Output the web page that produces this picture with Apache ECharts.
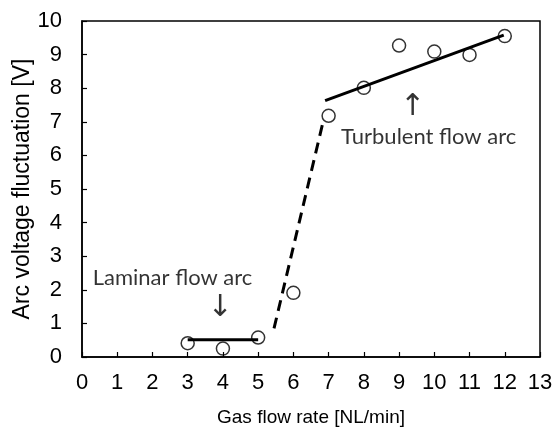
<!DOCTYPE html>
<html><head><meta charset="utf-8">
<script src="https://cdn.jsdelivr.net/npm/echarts@6/dist/echarts.min.js"></script>
<style>html,body{margin:0;padding:0;background:#fff}#c{width:555px;height:437px}</style>
</head><body><div id="c"></div>
<script>
var flowRate = [3, 4, 5, 6, 7, 8, 9, 10, 11, 12];
var fluctuation = [0.41, 0.25, 0.58, 1.91, 7.18, 8.01, 9.27, 9.09, 8.99, 9.55];
var laminarFit = [[3, 0.51], [5, 0.51]];
var transitionFit = [[5.45, 0.85], [6.82, 6.9]];
var turbulentFit = [[6.9, 7.63], [11.97, 9.58]];
var labelTexts = ['Turbulent flow arc', 'Laminar flow arc'];
var labelX = [9.84, 2.57];
var labelY = [6.55, 2.35];
var arrowTexts = ['\u2191', '\u2193'];
var arrowX = [9.38, 3.92];
var arrowY = [7.44, 1.46];

var chart = echarts.init(document.getElementById('c'), null, {renderer: 'canvas'});
var ff = 'Liberation Sans, Arial, sans-serif';
chart.setOption({
  animation: false,
  grid: {left: 82, top: 21, right: 15, bottom: 80, containLabel: false, outerBoundsMode: 'none',
         show: true, borderColor: '#000', borderWidth: 1.5, backgroundColor: 'transparent'},
  xAxis: {
    type: 'value', min: 0, max: 13, interval: 1,
    name: 'Gas flow rate [NL/min]', nameLocation: 'middle', nameGap: 51, nameMoveOverlap: false,
    nameTextStyle: {fontFamily: ff, fontSize: 19, color: '#000'},
    axisLine: {show: true, lineStyle: {color: '#000', width: 1.5}},
    axisTick: {show: true, inside: true, length: 5, lineStyle: {color: '#000', width: 1.2}},
    axisLabel: {margin: 15, fontFamily: ff, fontSize: 22, color: '#000'},
    splitLine: {show: false}
  },
  yAxis: {
    type: 'value', min: 0, max: 10, interval: 1,
    name: 'Arc voltage fluctuation [V]', nameLocation: 'middle', nameGap: 48, nameMoveOverlap: false,
    nameTextStyle: {fontFamily: ff, fontSize: 23, color: '#000'},
    axisLine: {show: true, lineStyle: {color: '#000', width: 1.5}},
    axisTick: {show: true, inside: true, length: 5, lineStyle: {color: '#000', width: 1.2}},
    axisLabel: {margin: 20, fontFamily: ff, fontSize: 22, color: '#000'},
    splitLine: {show: false}
  },
  series: [
    {type: 'scatter', data: flowRate.map(function (x, i) { return [x, fluctuation[i]]; }),
     symbol: 'circle', symbolSize: 13, z: 2,
     itemStyle: {color: 'rgba(0,0,0,0)', borderColor: '#000', borderWidth: 1.5}},
    {type: 'line', data: laminarFit, showSymbol: false, symbol: 'none', z: 3,
     lineStyle: {color: '#000', width: 3}},
    {type: 'line', data: transitionFit, showSymbol: false, symbol: 'none', z: 3,
     lineStyle: {color: '#000', width: 3, type: [11, 7]}},
    {type: 'line', data: turbulentFit, showSymbol: false, symbol: 'none', z: 3,
     lineStyle: {color: '#000', width: 3}},
    {type: 'scatter', symbolSize: 0, z: 4,
     data: labelTexts.map(function (t, i) { return {value: [labelX[i], labelY[i]], name: t}; }),
     label: {show: true, position: 'inside', formatter: '{b}', color: '#000',
             fontFamily: 'Lato, "Open Sans", sans-serif', fontSize: 22}},
    {type: 'scatter', symbolSize: 0, z: 4,
     data: arrowTexts.map(function (t, i) { return {value: [arrowX[i], arrowY[i]], name: t}; }),
     label: {show: true, position: 'inside', formatter: '{b}', color: '#000',
             fontFamily: '"DejaVu Sans", sans-serif', fontSize: 30}}
  ]
});
</script></body></html>
